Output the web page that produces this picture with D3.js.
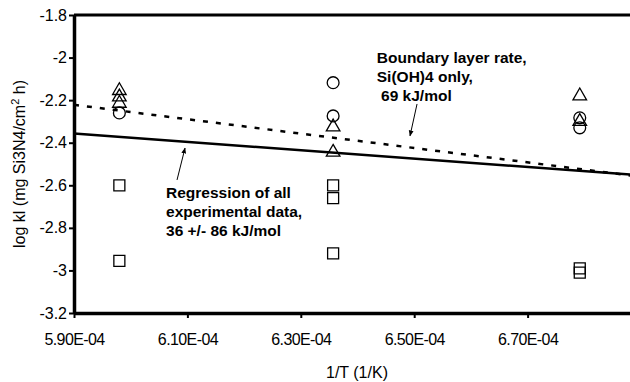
<!DOCTYPE html>
<html>
<head>
<meta charset="utf-8">
<script src="https://cdnjs.cloudflare.com/ajax/libs/d3/7.8.5/d3.min.js"></script>
<style>
  body { margin: 0; background: #fff; }
  svg { font-family: Arial, "Liberation Sans", sans-serif; }
</style>
</head>
<body>
<div id="chart"></div>
<script>
// x positions (1/T) of the three temperature groups
const colX = [5.98e-4, 6.357e-4, 6.792e-4];

// measured log kl values per marker type
const triangles = [
  [colX[0], -2.155], [colX[0], -2.185], [colX[0], -2.215],
  [colX[1], -2.326], [colX[1], -2.445],
  [colX[2], -2.18], [colX[2], -2.30]
];
const circles = [
  [colX[0], -2.26],
  [colX[1], -2.118], [colX[1], -2.274],
  [colX[2], -2.283], [colX[2], -2.33]
];
const squares = [
  [colX[0], -2.6], [colX[0], -2.955],
  [colX[1], -2.6], [colX[1], -2.66], [colX[1], -2.92],
  [colX[2], -2.99], [colX[2], -3.01]
];

// model lines
const regression = [[5.9e-4, -2.357], [6.9e-4, -2.553]];
const boundary = [[5.9e-4, -2.222], [6.9e-4, -2.56]];

const xTicks = [5.9e-4, 6.1e-4, 6.3e-4, 6.5e-4, 6.7e-4];
const yTicks = [-3.2, -3, -2.8, -2.6, -2.4, -2.2, -2, -1.8];

let width = 630, height = 382;
let margin = {top: 15, left: 74, bottom: 69};

let xScale = d3.scaleLinear()
  .domain([5.9e-4, 6.9e-4])
  .range([margin.left, margin.left + 5 * 113.4]);

let yScale = d3.scaleLinear()
  .domain([-3.2, -1.8])
  .range([height - margin.bottom, margin.top]);

let svg = d3.select("#chart").append("svg")
  .attr("width", width)
  .attr("height", height);

svg.append("defs").append("marker")
  .attr("id", "arrow")
  .attr("viewBox", "0 0 10 10")
  .attr("refX", 9).attr("refY", 5)
  .attr("markerWidth", 6).attr("markerHeight", 6)
  .attr("orient", "auto")
  .append("path")
  .attr("d", "M0,1 L10,5 L0,9 Z")
  .attr("fill", "#000");

// top border at -1.8
svg.append("line")
  .attr("x1", xScale(5.9e-4)).attr("x2", width)
  .attr("y1", yScale(-1.8)).attr("y2", yScale(-1.8))
  .attr("stroke", "#000").attr("stroke-width", 3);

let xAxis = svg.append("g")
  .attr("transform", "translate(0," + yScale(-3.2) + ")")
  .call(d3.axisBottom(xScale)
    .tickValues(xTicks)
    .tickSize(5)
    .tickSizeOuter(0)
    .tickFormat(d => (d * 1e4).toFixed(2) + "E-04"));
xAxis.select(".domain").attr("stroke-width", 3.5);
xAxis.selectAll(".tick line").attr("stroke-width", 2);
xAxis.selectAll("text").attr("font-size", 16).attr("fill", "#000").attr("dy", "1.5em")
  .attr("letter-spacing", -0.6);

let yAxis = svg.append("g")
  .attr("transform", "translate(" + xScale(5.9e-4) + ",0)")
  .call(d3.axisLeft(yScale)
    .tickValues(yTicks)
    .tickSize(5)
    .tickSizeOuter(0)
    .tickFormat(d => String(+d.toFixed(1))));
yAxis.select(".domain").attr("stroke-width", 3.5);
yAxis.selectAll(".tick line").attr("stroke-width", 2);
yAxis.selectAll("text").attr("font-size", 16).attr("fill", "#000").attr("x", -7);

let line = d3.line()
  .x(d => xScale(d[0]))
  .y(d => yScale(d[1]));

svg.append("path")
  .datum(regression)
  .attr("d", line)
  .attr("fill", "none")
  .attr("stroke", "#000")
  .attr("stroke-width", 2.5);

svg.append("path")
  .datum(boundary)
  .attr("d", line)
  .attr("fill", "none")
  .attr("stroke", "#000")
  .attr("stroke-width", 2.5)
  .attr("stroke-dasharray", "5,8");

function drawMarkers(data, type, size) {
  svg.selectAll(null)
    .data(data)
    .enter().append("path")
    .attr("transform", d => "translate(" + xScale(d[0]) + "," + yScale(d[1]) + ")")
    .attr("d", d3.symbol().type(type).size(size))
    .attr("fill", "none")
    .attr("stroke", "#000")
    .attr("stroke-width", 1.3);
}
drawMarkers(squares, d3.symbolSquare, 121);
drawMarkers(circles, d3.symbolCircle, 110);
drawMarkers(triangles, d3.symbolTriangle, 80);

// annotations
function addNote(x, y, lines) {
  let t = svg.append("text")
    .attr("x", xScale(x)).attr("y", yScale(y))
    .attr("font-size", 15.5).attr("font-weight", "bold");
  lines.forEach((s, i) => {
    t.append("tspan").attr("x", xScale(x)).attr("dy", i ? 19 : 0)
      .attr("xml:space", "preserve").text(s);
  });
}
addNote(6.434e-4, -2.0255, ["Boundary layer rate,", "Si(OH)4 only,", " 69 kJ/mol"]);
addNote(6.0623e-4, -2.66, ["Regression of all", "experimental data,", "36 +/- 86 kJ/mol"]);

function addArrow(from, to) {
  svg.append("line")
    .attr("x1", xScale(from[0])).attr("y1", yScale(from[1]))
    .attr("x2", xScale(to[0])).attr("y2", yScale(to[1]))
    .attr("stroke", "#000").attr("stroke-width", 1)
    .attr("marker-end", "url(#arrow)");
}
addArrow([6.505e-4, -2.218], [6.4926e-4, -2.368]);
addArrow([6.0817e-4, -2.575], [6.0958e-4, -2.425]);

// axis titles
svg.append("text")
  .attr("x", 357).attr("y", 378)
  .attr("text-anchor", "middle")
  .attr("font-size", 16)
  .text("1/T (1/K)");

let yl = svg.append("text")
  .attr("transform", "translate(25," + 164 + ") rotate(-90)")
  .attr("text-anchor", "middle")
  .attr("font-size", 16);
yl.append("tspan").text("log kl (mg Si3N4/cm");
yl.append("tspan").attr("font-size", 11).attr("dy", -6).text("2");
yl.append("tspan").attr("dy", 6).text(" h)");
</script>
</body>
</html>
